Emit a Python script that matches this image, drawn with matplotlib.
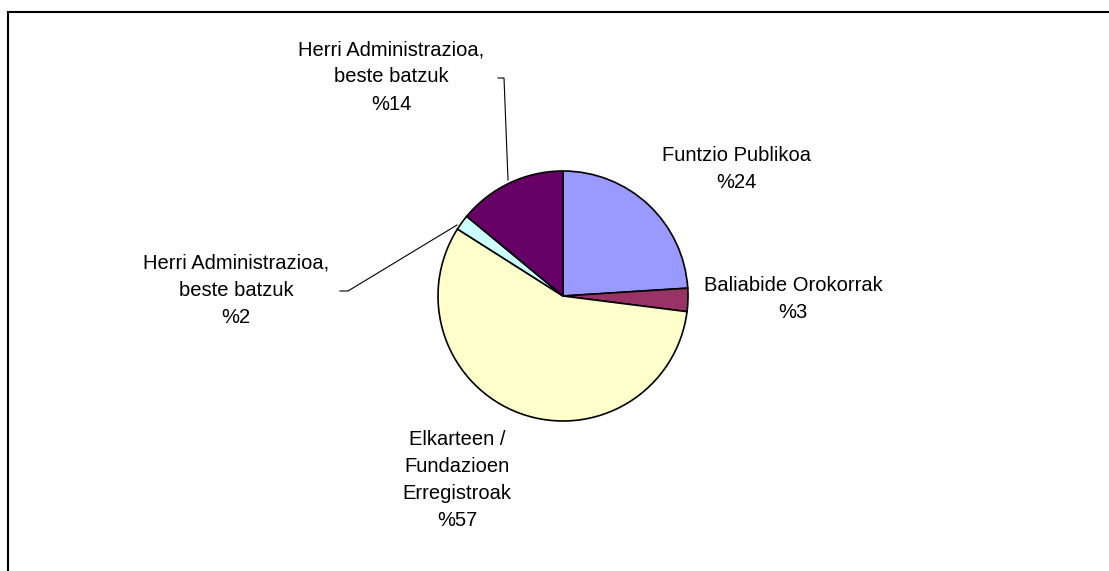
import matplotlib
matplotlib.use("Agg")
import matplotlib.pyplot as plt
from matplotlib.patches import Rectangle

# slice data, clockwise from 12 o'clock
labels = ["Funtzio Publikoa", "Baliabide Orokorrak",
          "Elkarteen /\nFundazioen\nErregistroak",
          "Herri Administrazioa,\nbeste batzuk",
          "Herri Administrazioa,\nbeste batzuk"]
shares = [24, 3, 57, 2, 14]
colors = ["#9999FF", "#993366", "#FFFFCC", "#CCFFFF", "#660066"]

W, H = 1109, 571
fig = plt.figure(figsize=(W / 100, H / 100), dpi=100)
ax = fig.add_axes([0, 0, 1, 1])

cx, cy, r = 563, H - 296, 125
ax.pie(shares, colors=colors, startangle=90, counterclock=False,
       center=(cx, cy), radius=r,
       wedgeprops=dict(edgecolor="black", linewidth=1.2))

# label placement (pixel coords from top-left)
label_pos = [(736, 169), (793, 299), (457, 480), (236, 290), (391, 77)]
for lab, s, (px, py) in zip(labels, shares, label_pos):
    ax.text(px, H - py, f"{lab}\n%{s}", ha="center", va="center",
            fontsize=14.5, family="Liberation Sans", linespacing=1.55)

# leader lines
ax.plot([340, 348, 457], [H - 291, H - 291, H - 225], color="black", lw=0.8)
ax.plot([498, 504, 508], [H - 78, H - 78, H - 180], color="black", lw=0.8)

# chart frame (only top and left visible)
ax.add_patch(Rectangle((8, -20), W + 50, H - 12 + 20, fill=False,
                       edgecolor="black", lw=1.5))

ax.set_xlim(0, W)
ax.set_ylim(0, H)
ax.set_aspect("auto")
ax.axis("off")
fig.savefig("out.png", dpi=100)
